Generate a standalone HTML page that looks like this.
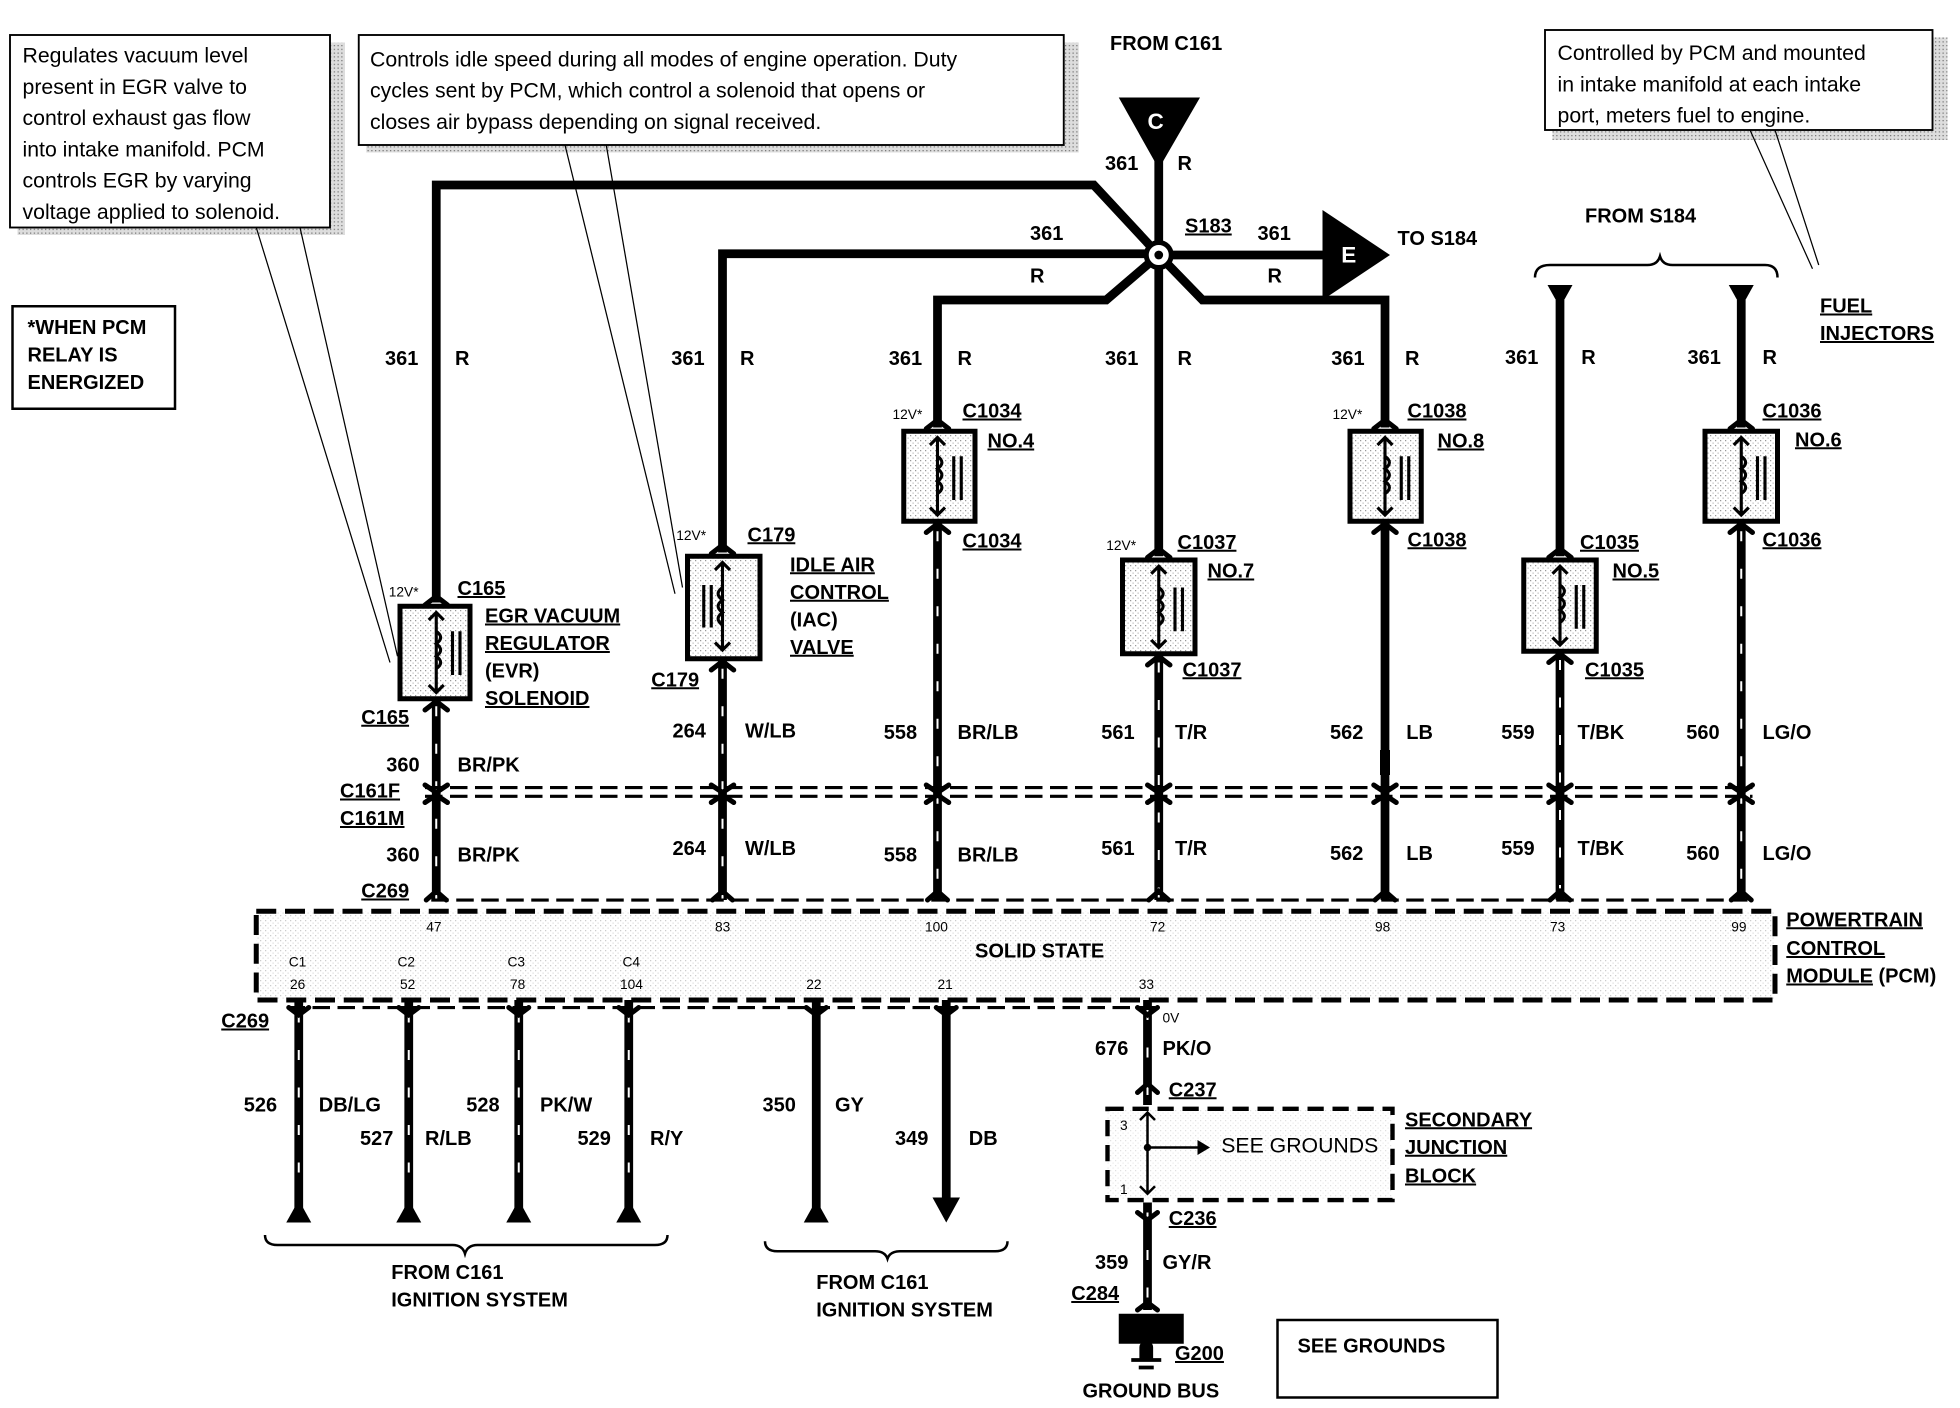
<!DOCTYPE html>
<html><head><meta charset="utf-8"><style>
html,body{margin:0;padding:0;background:#fff;width:1960px;height:1408px;overflow:hidden}
svg{display:block}
text{font-family:"Liberation Sans",Arial,sans-serif;font-weight:bold;font-size:16px;fill:#000}
.n{font-weight:normal;font-size:17px}
.s{font-size:11px;font-weight:normal}
.u{text-decoration:underline}
</style></head><body>
<svg width="1960" height="1408" viewBox="0 0 1568 1126.4" xmlns="http://www.w3.org/2000/svg">
<defs>
<pattern id="dot" width="4" height="4" patternUnits="userSpaceOnUse"><rect width="4" height="4" fill="#fff"/><rect width="1" height="1" fill="#999"/><rect x="2" y="2" width="1" height="1" fill="#bbb"/></pattern>
<pattern id="sh" width="3" height="3" patternUnits="userSpaceOnUse"><rect width="3" height="3" fill="#ddd"/><rect width="1" height="1" fill="#777"/></pattern>
</defs>

<!-- callout boxes -->
<rect x="14" y="34" width="262" height="154" fill="url(#sh)"/>
<rect x="8" y="28" width="256" height="154" fill="#fff" stroke="#000" stroke-width="1.5"/>
<text class="n" x="18" y="50">Regulates vacuum level</text>
<text class="n" x="18" y="75">present in EGR valve to</text>
<text class="n" x="18" y="100">control exhaust gas flow</text>
<text class="n" x="18" y="125">into intake manifold.  PCM</text>
<text class="n" x="18" y="150">controls EGR by varying</text>
<text class="n" x="18" y="175">voltage applied to solenoid.</text>
<path d="M205 182 L312 530 M240 182 L318 525" stroke="#000" fill="none" stroke-width="1"/>

<rect x="293" y="34" width="570" height="88" fill="url(#sh)"/>
<rect x="287" y="28" width="564" height="88" fill="#fff" stroke="#000" stroke-width="1.5"/>
<text class="n" x="296" y="53">Controls idle speed during all modes of engine operation.  Duty</text>
<text class="n" x="296" y="78">cycles sent by PCM, which control a solenoid that opens or</text>
<text class="n" x="296" y="103">closes air bypass depending on signal received.</text>
<path d="M452 116 L540 475 M485 116 L546 470" stroke="#000" fill="none" stroke-width="1"/>

<rect x="1242" y="30" width="316" height="82" fill="url(#sh)"/>
<rect x="1236" y="24" width="310" height="80" fill="#fff" stroke="#000" stroke-width="1.5"/>
<text class="n" x="1246" y="48">Controlled by PCM and mounted</text>
<text class="n" x="1246" y="73">in intake manifold at each intake</text>
<text class="n" x="1246" y="98">port, meters fuel to engine.</text>
<path d="M1400 104 L1450 215 M1420 104 L1455 212" stroke="#000" fill="none" stroke-width="1"/>

<rect x="10" y="245" width="130" height="82" fill="#fff" stroke="#000" stroke-width="2"/>
<text x="22" y="267">*WHEN PCM</text>
<text x="22" y="289">RELAY IS</text>
<text x="22" y="311">ENERGIZED</text>

<!-- top wires -->
<g stroke="#000" stroke-width="7" fill="none" stroke-linejoin="miter">
<path d="M349 482 L349 148 L875 148 L927 204"/>
<path d="M578 442 L578 203 L927 203"/>
<path d="M750 342 L750 240 L885 240 L927 204"/>
<path d="M927 110 L927 445"/>
<path d="M927 204 L1062 204"/>
<path d="M927 204 L962 240 L1108 240 L1108 342"/>
<path d="M1248 240 L1248 445"/>
<path d="M1393 240 L1393 342"/>
</g>
<circle cx="927" cy="204" r="10" fill="#fff" stroke="#000" stroke-width="4"/>
<circle cx="927" cy="204" r="3.5" fill="#000"/>
<polygon points="895,78 960,78 927,135" fill="#000"/>
<text x="918" y="103" style="fill:#fff;font-size:18px">C</text>
<polygon points="1058,168 1112,204 1058,240" fill="#000"/>
<text x="1073" y="210" style="fill:#fff;font-size:18px">E</text>
<text x="888" y="40">FROM C161</text>
<text x="1118" y="196">TO S184</text>
<text x="1268" y="178">FROM S184</text>
<path d="M1228 222 Q1228 212 1240 212 L1318 212 Q1326 212 1328 205 Q1330 212 1338 212 L1412 212 Q1422 212 1422 222" fill="none" stroke="#000" stroke-width="2"/>
<polygon points="1238,228 1258,228 1248,246" fill="#000"/>
<polygon points="1383,228 1403,228 1393,246" fill="#000"/>
<text x="1456" y="250" class="u">FUEL</text>
<text x="1456" y="272" class="u">INJECTORS</text>

<text x="884" y="136">361</text><text x="942" y="136">R</text>
<text x="948" y="186" class="u">S183</text>
<text x="824" y="192">361</text><text x="824" y="226">R</text>
<text x="1006" y="192">361</text><text x="1014" y="226">R</text>

<!-- wire labels top -->
<text x="308" y="292">361</text><text x="364" y="292">R</text>
<text x="537" y="292">361</text><text x="592" y="292">R</text>
<text x="711" y="292">361</text><text x="766" y="292">R</text>
<text x="884" y="292">361</text><text x="942" y="292">R</text>
<text x="1065" y="292">361</text><text x="1124" y="292">R</text>
<text x="1204" y="291">361</text><text x="1265" y="291">R</text>
<text x="1350" y="291">361</text><text x="1410" y="291">R</text>

<!-- lower wires -->
<g stroke="#000" stroke-width="7" fill="none">
<path d="M349 560 L349 720"/><path d="M578 527 L578 720"/><path d="M750 417 L750 720"/>
<path d="M927 523 L927 720"/><path d="M1108 417 L1108 720"/><path d="M1248 521 L1248 720"/><path d="M1393 417 L1393 720"/>
<path d="M239 800 L239 968"/><path d="M327 800 L327 968"/><path d="M415 800 L415 968"/><path d="M503 800 L503 968"/>
<path d="M653 800 L653 968"/><path d="M757 800 L757 960"/>
<path d="M918 800 L918 884"/><path d="M918 962 L918 1048"/>
</g>
<g stroke="#fff" stroke-width="1.6" stroke-dasharray="8 22" fill="none">
<path d="M349 565 L349 720"/><path d="M578 535 L578 720"/><path d="M750 425 L750 720"/>
<path d="M927 530 L927 720"/><path d="M1248 528 L1248 720"/><path d="M1393 425 L1393 720"/>
<path d="M239 810 L239 960"/><path d="M327 810 L327 960"/><path d="M415 810 L415 960"/><path d="M503 810 L503 960"/>
<path d="M918 808 L918 880"/><path d="M918 970 L918 1040"/>
</g>
<rect x="1104" y="600" width="8" height="20" fill="#000"/>
<polygon points="229,978 249,978 239,960" fill="#000"/>
<polygon points="317,978 337,978 327,960" fill="#000"/>
<polygon points="405,978 425,978 415,960" fill="#000"/>
<polygon points="493,978 513,978 503,960" fill="#000"/>
<polygon points="643,978 663,978 653,960" fill="#000"/>
<polygon points="746,958 768,958 757,978" fill="#000"/>

<!-- coil boxes -->
<g fill="url(#dot)" stroke="#000" stroke-width="4">
<rect x="320" y="485" width="56" height="74"/>
<rect x="550" y="445" width="58" height="82"/>
<rect x="723" y="345" width="57" height="72"/>
<rect x="898" y="448" width="58" height="75"/>
<rect x="1080" y="345" width="57" height="72"/>
<rect x="1219" y="448" width="58" height="73"/>
<rect x="1364" y="345" width="58" height="72"/>
</g>
<g stroke="#000" stroke-width="2.5" fill="none">
<!-- coil symbols: vertical arrow lines, coil, bars -->
<path d="M349 490 L349 554 M343 496 L349 490 L355 496 M343 548 L349 554 L355 548 M349 505 q7 5 0 10 q7 5 0 10 q7 5 0 10 M362 505 L362 540 M368 505 L368 540"/>
<path d="M578 450 L578 520 M572 456 L578 450 L584 456 M572 514 L578 520 L584 514 M578 470 q-7 5 0 10 q-7 5 0 10 q-7 5 0 10 M563 468 L563 502 M569 468 L569 502"/>
<path d="M750 350 L750 412 M744 356 L750 350 L756 356 M744 406 L750 412 L756 406 M750 365 q7 5 0 10 q7 5 0 10 q7 5 0 10 M763 365 L763 400 M769 365 L769 400"/>
<path d="M927 453 L927 518 M921 459 L927 453 L933 459 M921 512 L927 518 L933 512 M927 470 q7 5 0 10 q7 5 0 10 q7 5 0 10 M940 470 L940 505 M946 470 L946 505"/>
<path d="M1108 350 L1108 412 M1102 356 L1108 350 L1114 356 M1102 406 L1108 412 L1114 406 M1108 365 q7 5 0 10 q7 5 0 10 q7 5 0 10 M1121 365 L1121 400 M1127 365 L1127 400"/>
<path d="M1248 453 L1248 516 M1242 459 L1248 453 L1254 459 M1242 510 L1248 516 L1254 510 M1248 468 q7 5 0 10 q7 5 0 10 q7 5 0 10 M1261 468 L1261 503 M1267 468 L1267 503"/>
<path d="M1393 350 L1393 412 M1387 356 L1393 350 L1399 356 M1387 406 L1393 412 L1399 406 M1393 365 q7 5 0 10 q7 5 0 10 q7 5 0 10 M1406 365 L1406 400 M1412 365 L1412 400"/>
</g>
<!-- Y connector forks -->
<g stroke="#000" stroke-width="4" fill="none" stroke-linecap="round">
<path d="M340 484 L349 477 L358 484"/><path d="M340 568 L349 561 L358 568"/>
<path d="M569 443 L578 436 L587 443"/><path d="M569 536 L578 529 L587 536"/>
<path d="M741 343 L750 336 L759 343"/><path d="M741 426 L750 419 L759 426"/>
<path d="M918 446 L927 439 L936 446"/><path d="M918 532 L927 525 L936 532"/>
<path d="M1099 343 L1108 336 L1117 343"/><path d="M1099 426 L1108 419 L1117 426"/>
<path d="M1239 446 L1248 439 L1257 446"/><path d="M1239 530 L1248 523 L1257 530"/>
<path d="M1384 343 L1393 336 L1402 343"/><path d="M1384 426 L1393 419 L1402 426"/>
<path d="M340 628 L349 634 L358 628 M340 642 L349 636 L358 642"/>
<path d="M569 628 L578 634 L587 628 M569 642 L578 636 L587 642"/>
<path d="M741 628 L750 634 L759 628 M741 642 L750 636 L759 642"/>
<path d="M918 628 L927 634 L936 628 M918 642 L927 636 L936 642"/>
<path d="M1099 628 L1108 634 L1117 628 M1099 642 L1108 636 L1117 642"/>
<path d="M1239 628 L1248 634 L1257 628 M1239 642 L1248 636 L1257 642"/>
<path d="M1384 628 L1393 634 L1402 628 M1384 642 L1393 636 L1402 642"/>
<path d="M341 720 L349 713 L357 720 M570 720 L578 713 L586 720 M742 720 L750 713 L758 720 M919 720 L927 713 L935 720 M1100 720 L1108 713 L1116 720 M1240 720 L1248 713 L1256 720 M1385 720 L1393 713 L1401 720"/>
<path d="M231 806 L239 812 L247 806 M319 806 L327 812 L335 806 M407 806 L415 812 L423 806 M495 806 L503 812 L511 806 M645 806 L653 812 L661 806 M749 806 L757 812 L765 806 M910 806 L918 812 L926 806"/>
<path d="M910 874 L918 867 L926 874 M910 970 L918 976 L926 970 M910 1048 L918 1042 L926 1048"/>
</g>
<!-- dashed connector lines -->
<g stroke="#000" stroke-width="2.5" stroke-dasharray="14 6" fill="none">
<path d="M340 630 L1402 630"/><path d="M340 637 L1402 637"/>
<path d="M345 720 L1398 720"/><path d="M230 806 L930 806"/>
</g>
<!-- PCM -->
<rect x="205" y="729" width="1215" height="71" fill="url(#dot)" fill-opacity="0.5" stroke="#000" stroke-width="4" stroke-dasharray="16 7"/>
<text x="780" y="766">SOLID STATE</text>
<g class="s">
<text class="s" x="341" y="745">47</text><text class="s" x="572" y="745">83</text><text class="s" x="740" y="745">100</text>
<text class="s" x="920" y="745">72</text><text class="s" x="1100" y="745">98</text><text class="s" x="1240" y="745">73</text><text class="s" x="1385" y="745">99</text>
<text class="s" x="231" y="773">C1</text><text class="s" x="318" y="773">C2</text><text class="s" x="406" y="773">C3</text><text class="s" x="498" y="773">C4</text>
<text class="s" x="232" y="791">26</text><text class="s" x="320" y="791">52</text><text class="s" x="408" y="791">78</text><text class="s" x="496" y="791">104</text>
<text class="s" x="645" y="791">22</text><text class="s" x="750" y="791">21</text><text class="s" x="911" y="791">33</text>
<text class="s" x="930" y="818">0V</text>
</g>
<text x="1429" y="741" class="u">POWERTRAIN</text>
<text x="1429" y="764" class="u">CONTROL</text>
<text x="1429" y="786"><tspan class="u">MODULE</tspan> (PCM)</text>

<!-- coil labels -->
<text class="s" x="311" y="477">12V*</text><text x="366" y="476" class="u">C165</text>
<text x="388" y="498" class="u">EGR VACUUM</text><text x="388" y="520" class="u">REGULATOR</text><text x="388" y="542">(EVR)</text><text x="388" y="564" class="u">SOLENOID</text>
<text x="289" y="579" class="u">C165</text>
<text class="s" x="541" y="432">12V*</text><text x="598" y="433" class="u">C179</text>
<text x="632" y="457" class="u">IDLE AIR</text><text x="632" y="479" class="u">CONTROL</text><text x="632" y="501">(IAC)</text><text x="632" y="523" class="u">VALVE</text>
<text x="521" y="549" class="u">C179</text>
<text class="s" x="714" y="335">12V*</text><text x="770" y="334" class="u">C1034</text><text x="790" y="358" class="u">NO.4</text><text x="770" y="438" class="u">C1034</text>
<text class="s" x="885" y="440">12V*</text><text x="942" y="439" class="u">C1037</text><text x="966" y="462" class="u">NO.7</text><text x="946" y="541" class="u">C1037</text>
<text class="s" x="1066" y="335">12V*</text><text x="1126" y="334" class="u">C1038</text><text x="1150" y="358" class="u">NO.8</text><text x="1126" y="437" class="u">C1038</text>
<text x="1264" y="439" class="u">C1035</text><text x="1290" y="462" class="u">NO.5</text><text x="1268" y="541" class="u">C1035</text>
<text x="1410" y="334" class="u">C1036</text><text x="1436" y="357" class="u">NO.6</text><text x="1410" y="437" class="u">C1036</text>

<!-- lower labels -->
<text x="309" y="617">360</text><text x="366" y="617">BR/PK</text>
<text x="538" y="590">264</text><text x="596" y="590">W/LB</text>
<text x="707" y="591">558</text><text x="766" y="591">BR/LB</text>
<text x="881" y="591">561</text><text x="940" y="591">T/R</text>
<text x="1064" y="591">562</text><text x="1125" y="591">LB</text>
<text x="1201" y="591">559</text><text x="1262" y="591">T/BK</text>
<text x="1349" y="591">560</text><text x="1410" y="591">LG/O</text>
<text x="272" y="638" class="u">C161F</text><text x="272" y="660" class="u">C161M</text>
<text x="309" y="689">360</text><text x="366" y="689">BR/PK</text>
<text x="538" y="684">264</text><text x="596" y="684">W/LB</text>
<text x="707" y="689">558</text><text x="766" y="689">BR/LB</text>
<text x="881" y="684">561</text><text x="940" y="684">T/R</text>
<text x="1064" y="688">562</text><text x="1125" y="688">LB</text>
<text x="1201" y="684">559</text><text x="1262" y="684">T/BK</text>
<text x="1349" y="688">560</text><text x="1410" y="688">LG/O</text>
<text x="289" y="718" class="u">C269</text>
<text x="177" y="822" class="u">C269</text>

<text x="195" y="889">526</text><text x="255" y="889">DB/LG</text>
<text x="288" y="916">527</text><text x="340" y="916">R/LB</text>
<text x="373" y="889">528</text><text x="432" y="889">PK/W</text>
<text x="462" y="916">529</text><text x="520" y="916">R/Y</text>
<text x="610" y="889">350</text><text x="668" y="889">GY</text>
<text x="716" y="916">349</text><text x="775" y="916">DB</text>
<path d="M212 988 Q212 996 222 996 L362 996 Q370 996 372 1003 Q374 996 382 996 L524 996 Q534 996 534 988" fill="none" stroke="#000" stroke-width="2"/>
<text x="313" y="1023">FROM C161</text><text x="313" y="1045">IGNITION SYSTEM</text>
<path d="M612 993 Q612 1001 622 1001 L700 1001 Q708 1001 710 1007 Q712 1001 720 1001 L796 1001 Q806 1001 806 993" fill="none" stroke="#000" stroke-width="2"/>
<text x="653" y="1031">FROM C161</text><text x="653" y="1053">IGNITION SYSTEM</text>

<!-- junction -->
<text x="876" y="844">676</text><text x="930" y="844">PK/O</text>
<text x="935" y="877" class="u">C237</text>
<rect x="886" y="887" width="228" height="73" fill="url(#dot)" fill-opacity="0.3" stroke="#000" stroke-width="3.5" stroke-dasharray="13 7"/>
<path d="M918 890 L918 955 M912 896 L918 890 L924 896 M912 949 L918 955 L924 949 M918 918 L960 918" stroke="#000" stroke-width="2" fill="none"/>
<polygon points="958,912 968,918 958,924" fill="#000"/>
<circle cx="918" cy="918" r="3" fill="#000"/>
<text class="s" x="896" y="904">3</text><text class="s" x="896" y="955">1</text>
<text class="n" x="977" y="922">SEE GROUNDS</text>
<text x="1124" y="901" class="u">SECONDARY</text><text x="1124" y="923" class="u">JUNCTION</text><text x="1124" y="946" class="u">BLOCK</text>
<text x="935" y="980" class="u">C236</text>
<text x="876" y="1015">359</text><text x="930" y="1015">GY/R</text>
<text x="857" y="1040" class="u">C284</text>
<rect x="895" y="1051" width="52" height="24" fill="#000"/>
<path d="M905 1088 L929 1088 M911 1094 L923 1094 M913 1078 a4 4 0 0 1 8 0 L921 1086 L913 1086 Z" stroke="#000" stroke-width="3" fill="#000"/>
<text x="940" y="1088" class="u">G200</text>
<text x="866" y="1118">GROUND BUS</text>
<rect x="1022" y="1056" width="176" height="62" fill="#fff" stroke="#000" stroke-width="2"/>
<text x="1038" y="1082">SEE GROUNDS</text>
</svg>
</body></html>
